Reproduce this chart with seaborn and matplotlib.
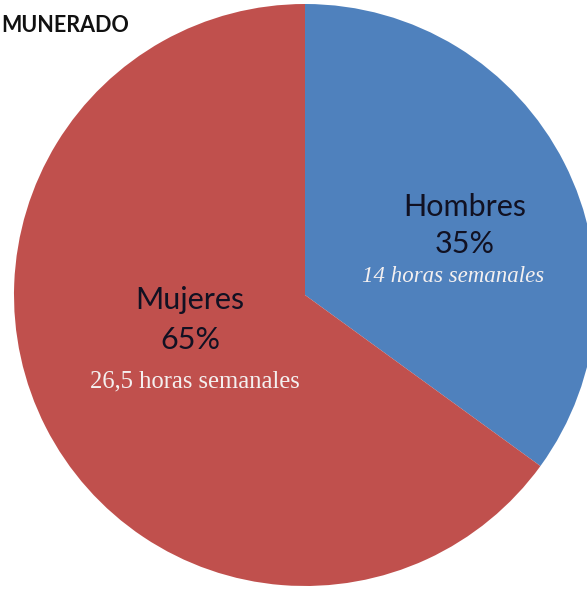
import matplotlib
matplotlib.use("Agg")
import matplotlib.pyplot as plt
import seaborn as sns

# Share of unpaid work by sex
categories = ["Hombres", "Mujeres"]
shares = [35, 65]
hours_labels = ["14 horas semanales", "26,5 horas semanales"]
title_text = "MUNERADO"

colors = ["#4F81BD", "#C0504D"]

sns.set_theme(style="white")
plt.rcParams["font.family"] = ["Lato", "DejaVu Sans"]

W, H = 587, 589
fig = plt.figure(figsize=(W / 100, H / 100), dpi=100)
ax = fig.add_axes([0, 0, 1, 1])

cx, cy, r = 305, H - 295, 291
wedges, _ = ax.pie(shares, colors=colors, startangle=90, counterclock=False,
                   center=(cx, cy), radius=r, frame=True,
                   wedgeprops=dict(linewidth=0))
ax.set_xlim(0, W)
ax.set_ylim(0, H)
ax.set_aspect("equal")
ax.axis("off")

# label blocks: name/percent x, hours x, and row y positions in pixel space
label_pos = [(465, 453, 207, 244, 277), (190, 195, 300, 340, 381)]
hour_sizes = [16.5, 17.7]
for cat, val, hrs, (x, xh, y1, y2, y3), italic, hs in zip(
        categories, shares, hours_labels, label_pos, [True, False], hour_sizes):
    ax.text(x, H - y1, cat, ha="center", va="center", fontsize=22,
            color="#111122")
    ax.text(x, H - y2, f"{val}%", ha="center", va="center", fontsize=22,
            color="#111122")
    ax.text(xh, H - y3, hrs, ha="center", va="center", fontsize=hs,
            family=["Liberation Serif", "DejaVu Serif"],
            style="italic" if italic else "normal", color="#F4F0F0")

ax.text(1, H - 25, title_text, ha="left", va="center", fontsize=15.5,
        fontweight="bold", color="#111111")

fig.savefig("out.png", dpi=100)
